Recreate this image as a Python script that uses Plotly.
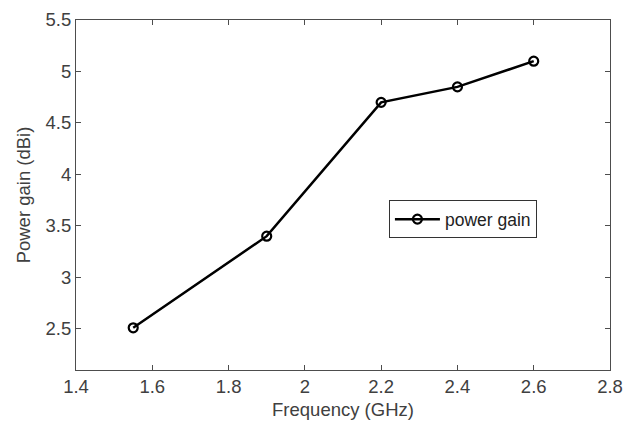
import plotly.graph_objects as go

freq = [1.55, 1.9, 2.2, 2.4, 2.6]
gain = [2.51, 3.4, 4.7, 4.85, 5.1]
series_name = "power gain"
x_ticks = [1.4, 1.6, 1.8, 2.0, 2.2, 2.4, 2.6, 2.8]
x_labels = ["1.4", "1.6", "1.8", "2", "2.2", "2.4", "2.6", "2.8"]
y_ticks = [2.5, 3.0, 3.5, 4.0, 4.5, 5.0, 5.5]
y_labels = ["2.5", "3", "3.5", "4", "4.5", "5", "5.5"]

FONT = "Liberation Sans, Arial"
fig = go.Figure()
fig.add_trace(go.Scatter(
    x=freq, y=gain, mode="lines+markers", name=series_name,
    line=dict(color="black", width=2.5),
    marker=dict(symbol="circle-open", size=9, color="black", line=dict(width=2.2)),
))

axis_common = dict(
    showgrid=False, zeroline=False, showline=True, linecolor="#4d4d4d", linewidth=1,
    mirror="ticks", ticks="inside", ticklen=5, tickcolor="#4d4d4d", automargin=False,
    tickfont=dict(family=FONT, size=18.5, color="#404040"),
)

fig.update_xaxes(range=[1.4, 2.8], tickvals=x_ticks, ticktext=x_labels,
                 title=dict(text="Frequency (GHz)", standoff=6,
                            font=dict(family=FONT, size=18.5, color="#404040")),
                 **axis_common)
fig.update_yaxes(range=[2.1, 5.5], tickvals=y_ticks, ticktext=y_labels,
                 title=dict(text="Power gain (dBi)", standoff=10,
                            font=dict(family=FONT, size=18.5, color="#404040")),
                 **axis_common)

fig.update_layout(
    width=635, height=434,
    margin=dict(l=76, r=25, t=20, b=64),
    plot_bgcolor="white", paper_bgcolor="white",
    showlegend=True,
    legend=dict(x=0.586, y=0.485, xanchor="left", yanchor="top",
                bordercolor="#333333", borderwidth=1, bgcolor="white",
                font=dict(family=FONT, size=17.5, color="#222222"),
                itemwidth=45, tracegroupgap=0),
)

fig.write_html("out.html", config={"displayModeBar": False},
               post_script="document.body.style.margin='0';")
